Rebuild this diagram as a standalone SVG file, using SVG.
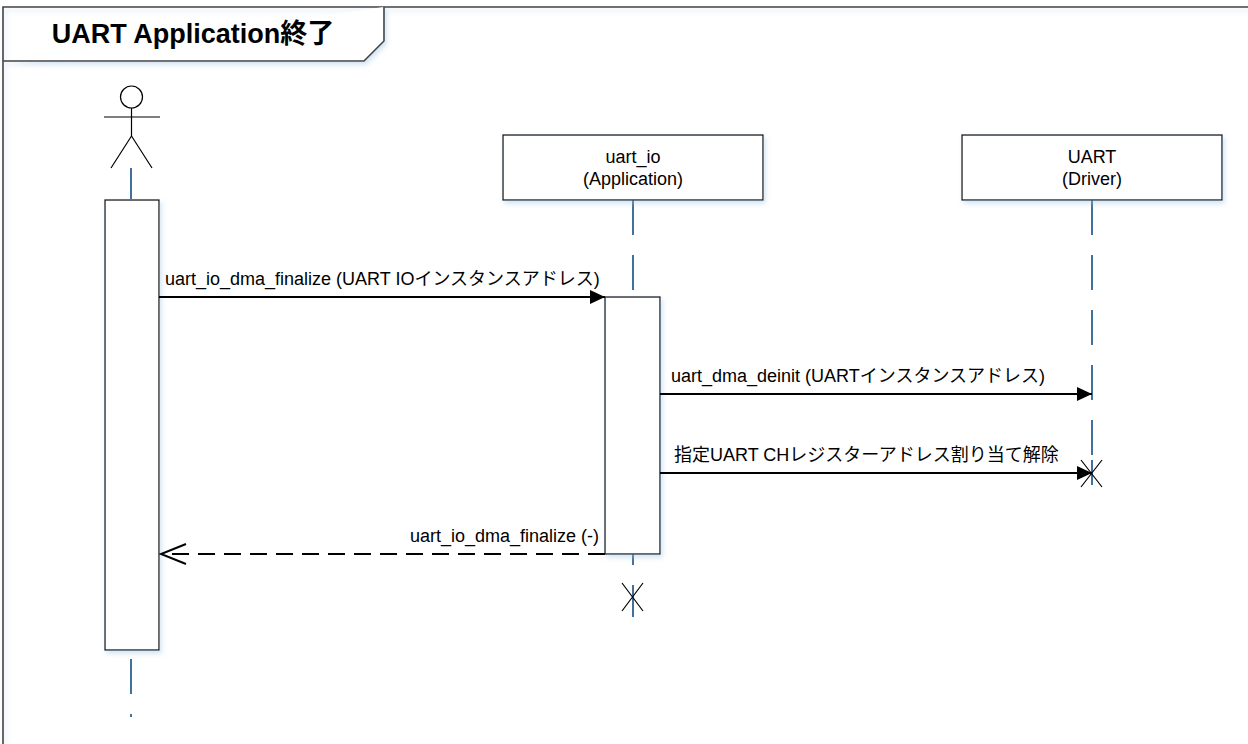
<svg xmlns="http://www.w3.org/2000/svg" width="1248" height="744" viewBox="0 0 1248 744">
<style>
.lbl{font-family:'Liberation Sans',Arial,'Noto Sans CJK JP',sans-serif;font-size:18px;fill:#000}
.title{font-family:'Liberation Sans',Arial,'Noto Sans CJK JP',sans-serif;font-size:27px;font-weight:bold;fill:#000}
.life{stroke:#41719c;stroke-width:2;stroke-dasharray:35 20;fill:none}
.box{fill:#fff;stroke:#1a1a1a;stroke-width:1.3}
.msg{stroke:#000;stroke-width:2;fill:none}
.ret{stroke:#000;stroke-width:2;fill:none;stroke-dasharray:17 9}
.thin{stroke:#000;stroke-width:1.2;fill:none}
</style>
<defs>
<filter id="sh" x="-10%" y="-10%" width="130%" height="130%">
<feGaussianBlur in="SourceAlpha" stdDeviation="2.5"/>
<feOffset dx="2" dy="3" result="b"/>
<feFlood flood-color="#9cc3e6" flood-opacity="0.45"/>
<feComposite in2="b" operator="in"/>
<feMerge><feMergeNode/><feMergeNode in="SourceGraphic"/></feMerge>
</filter>
<marker id="fa" markerUnits="userSpaceOnUse" markerWidth="16" markerHeight="14" refX="15" refY="7" orient="auto">
<path d="M0,0 L15,7 L0,14 z" fill="#000"/>
</marker>
<marker id="oa" markerUnits="userSpaceOnUse" markerWidth="28" markerHeight="24" refX="26" refY="11" orient="auto">
<path d="M1,1 L26,11 L1,21" fill="none" stroke="#000" stroke-width="2"/>
</marker>
</defs>
<rect width="1248" height="744" fill="#fff"/>
<g id="frame">
<path d="M3,760 L3,7 L1260,7" fill="none" stroke="#404040" stroke-width="1.6" filter="url(#sh)"/>
<path d="M3,61 L364,61 L384,41 L384,7" fill="#fff" stroke="#404040" stroke-width="1.6" filter="url(#sh)"/>
<text class="title" x="193" y="43" text-anchor="middle">UART Application終了</text>
</g>
<g id="lifelines">
<line class="life" x1="131" y1="168" x2="131" y2="717" stroke-dashoffset="4"/>
<line class="life" x1="633" y1="200" x2="633" y2="617"/>
<line class="life" x1="1092" y1="200" x2="1092" y2="455"/>
<line x1="1092" y1="460" x2="1092" y2="485" stroke="#41719c" stroke-width="2"/>
</g>
<g id="actor">
<circle cx="131.5" cy="97" r="11" fill="#fff" stroke="#000" stroke-width="1.2"/>
<line class="thin" x1="104" y1="117" x2="160" y2="117"/>
<line class="thin" x1="131.5" y1="108" x2="131.5" y2="136"/>
<path class="thin" d="M111,168 L131.5,136 L152,168"/>
<rect class="box" x="105" y="200" width="54" height="450" filter="url(#sh)"/>
</g>
<g id="uart_io">
<rect class="box" x="503" y="135" width="260" height="65" filter="url(#sh)"/>
<text class="lbl" x="633" y="163" text-anchor="middle">uart_io</text>
<text class="lbl" x="633" y="185" text-anchor="middle">(Application)</text>
<rect class="box" x="605" y="297" width="55" height="257" filter="url(#sh)"/>
<path class="thin" d="M622,583 L643,611 M643,583 L622,611"/>
</g>
<g id="uart">
<rect class="box" x="962" y="135" width="260" height="65" filter="url(#sh)"/>
<text class="lbl" x="1092" y="163" text-anchor="middle">UART</text>
<text class="lbl" x="1092" y="185" text-anchor="middle">(Driver)</text>
<path class="thin" d="M1081,460 L1102,487 M1102,460 L1081,487"/>
</g>
<g id="connectors">
<line class="msg" x1="159" y1="297" x2="605" y2="297" marker-end="url(#fa)"/>
<text class="lbl" x="165" y="285">uart_io_dma_finalize (UART IOインスタンスアドレス)</text>
<line class="msg" x1="660" y1="394" x2="1092" y2="394" marker-end="url(#fa)"/>
<text class="lbl" x="671" y="382">uart_dma_deinit (UARTインスタンスアドレス)</text>
<line class="msg" x1="660" y1="473" x2="1092" y2="473" marker-end="url(#fa)"/>
<text class="lbl" x="674" y="461">指定UART CHレジスターアドレス割り当て解除</text>
<line class="ret" x1="605" y1="554" x2="161" y2="554" marker-end="url(#oa)"/>
<text class="lbl" x="599" y="542" text-anchor="end">uart_io_dma_finalize (-)</text>
</g>
</svg>
